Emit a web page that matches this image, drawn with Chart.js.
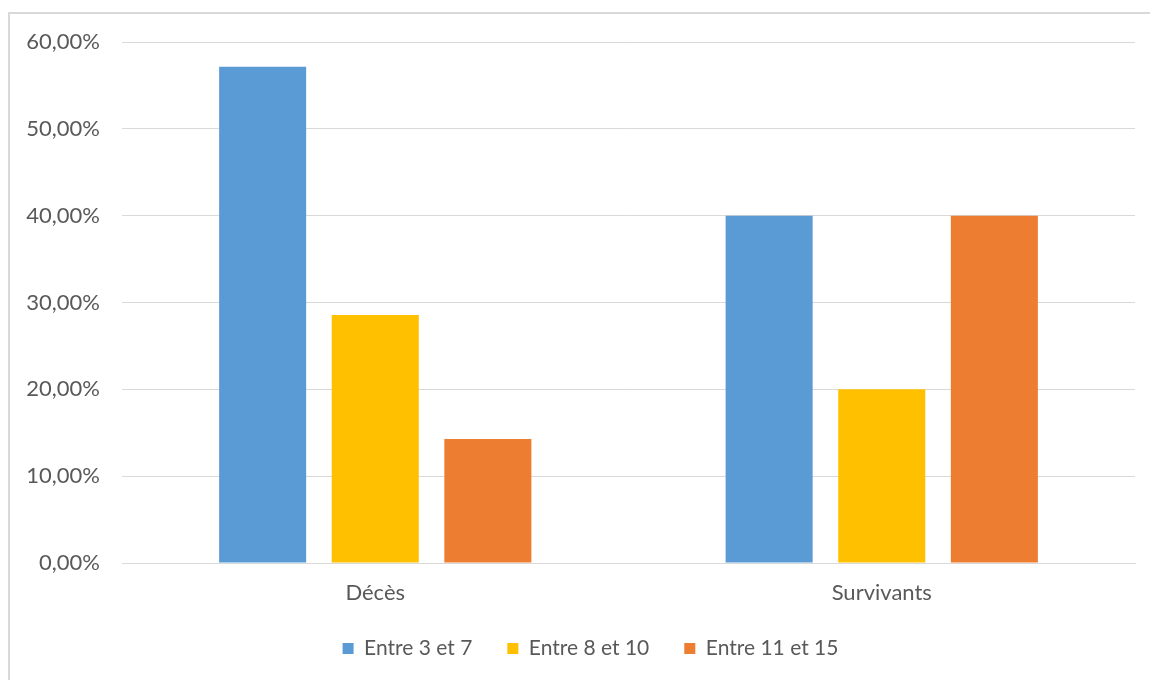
<!DOCTYPE html>
<html>
<head>
<meta charset="utf-8">
<script src="https://cdn.jsdelivr.net/npm/chart.js@4.4.0/dist/chart.umd.min.js"></script>
<style>
  html, body { margin: 0; padding: 0; background: #fff; }
  #wrap { position: relative; width: 1150px; height: 680px; overflow: hidden; }
  #frame {
    position: absolute; left: 8px; top: 12px; width: 1200px; height: 720px;
    border-left: 2px solid #d9d9d9; border-top: 2px solid #d9d9d9;
  }
  #chart { position: absolute; left: 0; top: 0; }
</style>
</head>
<body>
<div id="wrap">
  <div id="frame"></div>
  <canvas id="chart" width="1150" height="680"></canvas>
</div>
<script>
const categories = ["Décès", "Survivants"];
const seriesNames = ["Entre 3 et 7", "Entre 8 et 10", "Entre 11 et 15"];
const entre3et7 = [57.14, 40.00];
const entre8et10 = [28.57, 20.00];
const entre11et15 = [14.29, 40.00];
const seriesColors = ["#5B9BD5", "#FFC000", "#ED7D31"];

const fontFamily = "Lato, 'Open Sans', sans-serif";
const textColor = "#595959";
const gridColor = "#d9d9d9";

const fmtPct = v => v.toFixed(2).replace(".", ",") + "%";

const datasets = [entre3et7, entre8et10, entre11et15].map((values, i) => ({
    label: seriesNames[i],
    data: values,
    backgroundColor: seriesColors[i],
    borderWidth: 0,
    categoryPercentage: 0.667,
    barPercentage: 0.773
}));

// nudge the legend a bit to the right of the canvas center
const legendOffset = {
    id: "legendOffset",
    afterLayout(chart) {
        const lg = chart.legend;
        if (!lg) return;
        lg.left += 23;
        lg.right += 23;
    }
};

new Chart(document.getElementById("chart"), {
    type: "bar",
    data: { labels: categories, datasets },
    plugins: [legendOffset],
    options: {
        responsive: false,
        animation: false,
        layout: { padding: { top: 42, right: 15, left: 0, bottom: 11 } },
        plugins: {
            tooltip: { enabled: false },
            legend: {
                position: "bottom",
                labels: {
                    boxWidth: 11,
                    boxHeight: 11,
                    padding: 35,
                    color: textColor,
                    font: { family: fontFamily, size: 21 }
                }
            }
        },
        scales: {
            x: {
                grid: { display: false, drawTicks: false },
                border: { display: true, color: gridColor, width: 1 },
                ticks: { color: textColor, padding: 17, font: { family: fontFamily, size: 22 } },
                afterFit: scale => { scale.height = 40; }
            },
            y: {
                min: 0,
                max: 60,
                grid: { color: gridColor, lineWidth: 1, drawTicks: false },
                border: { display: false },
                ticks: {
                    stepSize: 10,
                    padding: 22,
                    color: textColor,
                    font: { family: fontFamily, size: 22 },
                    callback: v => fmtPct(v)
                },
                afterFit: scale => { scale.width = 122; }
            }
        }
    }
});
</script>
</body>
</html>
